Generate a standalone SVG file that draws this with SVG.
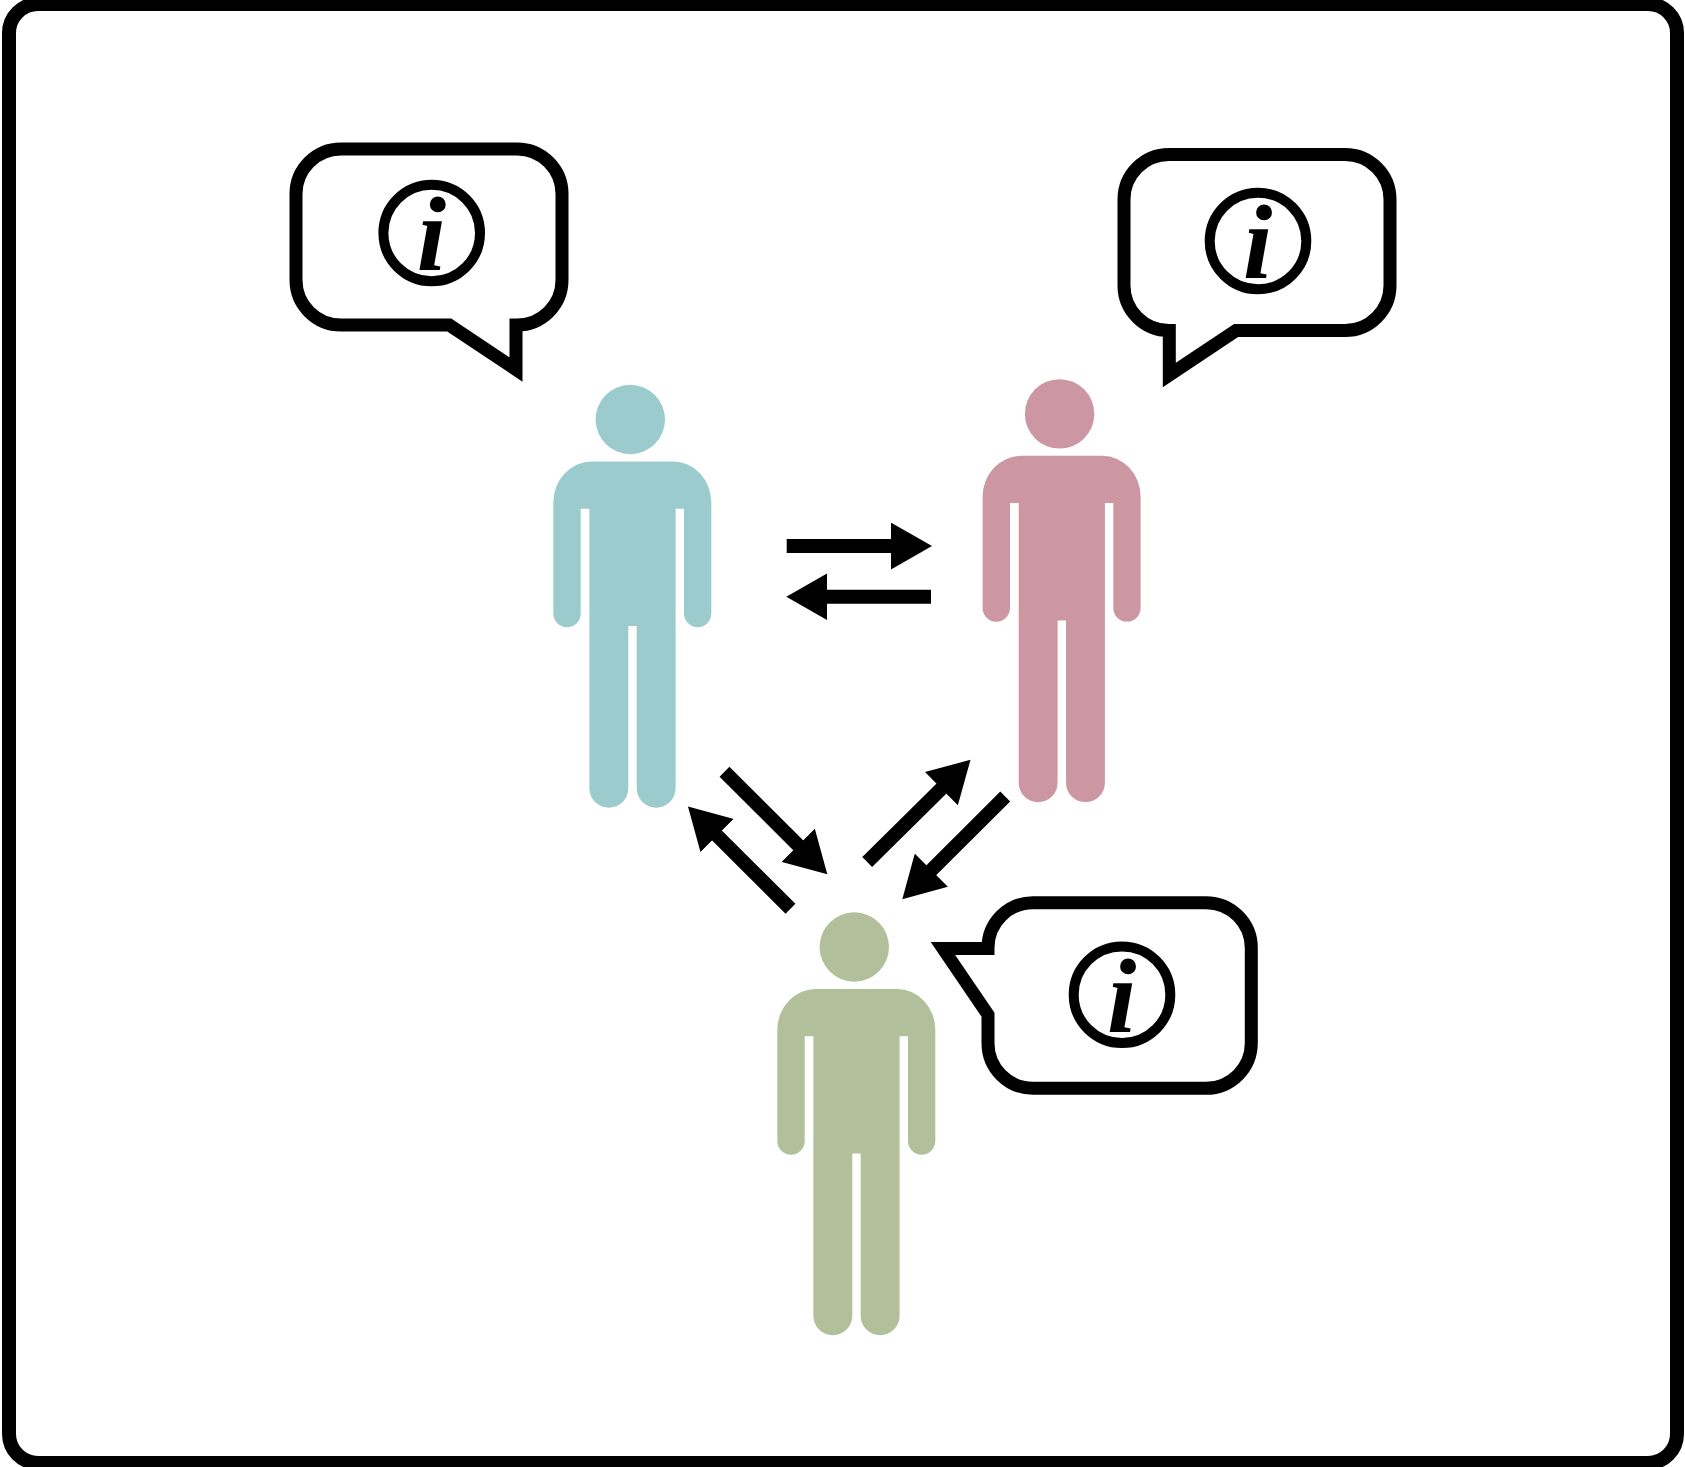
<svg xmlns="http://www.w3.org/2000/svg" width="1685" height="1467" viewBox="0 0 1685 1467" shape-rendering="geometricPrecision">
<style>
.frame{fill:#fff;stroke:#000;stroke-width:14}
.bubble{fill:#fff;stroke:#000;stroke-width:13;stroke-miterlimit:10}
.ring{fill:none;stroke:#000;stroke-width:10}
.info{font-family:"Liberation Serif","Times New Roman",serif;font-weight:bold;font-style:italic;font-size:106px;text-anchor:middle;fill:#000;text-rendering:geometricPrecision}
.arrow{stroke:#000;stroke-width:14;fill:none;marker-end:url(#head)}
</style>
<defs>
<marker id="head" markerUnits="userSpaceOnUse" markerWidth="42" markerHeight="47" refX="2" refY="23.4" orient="auto"><path d="M0,0 L41,23.4 L0,46.8 Z" fill="#000"/></marker>
<g id="person">
<circle cx="630.3" cy="419.5" r="34.7"/>
<path d="M592,461.4 H673 A38.3,41 0 0 1 711.3,502.4 V613.6 A13.65,13.65 0 0 1 684,613.6 V508.7 H675.6 V788.3 A19.45,19.45 0 0 1 636.7,788.3 V626 H628.3 V788.3 A19.45,19.45 0 0 1 589.4,788.3 V508.7 H580.7 V613.6 A13.7,13.7 0 0 1 553.3,613.6 V502.4 A38.7,41 0 0 1 592,461.4 Z"/>
</g>
</defs>
<rect x="9" y="4" width="1668" height="1459" rx="29" ry="29" class="frame"/>
<g id="person-teal" fill="#9CCBCD"><use href="#person"/></g>
<g id="person-pink" fill="#CC97A2"><use href="#person" x="429.3" y="-5.6"/></g>
<g id="person-green" fill="#B1C09A"><use href="#person" x="224" y="527.5"/></g>
<g id="bubble-1">
<path class="bubble" d="M341,149 H517 A45,45 0 0 1 562,194 V280 A45,45 0 0 1 517,325 H516 V369.5 L449.3,325 H341 A45,45 0 0 1 296,280 V194 A45,45 0 0 1 341,149 Z"/>
<circle class="ring" cx="431.7" cy="233" r="48.3"/>
<text class="info" x="431.5" y="270">i</text>
</g>
<g id="bubble-2">
<path class="bubble" d="M1169,154.5 H1345 A45,45 0 0 1 1390,199.5 V285.5 A45,45 0 0 1 1345,330.5 H1236 L1169.3,375 V330.5 H1169 A45,45 0 0 1 1124,285.5 V199.5 A45,45 0 0 1 1169,154.5 Z"/>
<circle class="ring" cx="1258" cy="241" r="48.3"/>
<text class="info" x="1257.8" y="278">i</text>
</g>
<g id="bubble-3">
<path class="bubble" d="M1033,902.7 H1206 A45.3,45.3 0 0 1 1251.3,948 V1043 A45.3,45.3 0 0 1 1206,1088.3 H1033 A45,45 0 0 1 988,1043.3 V1014.7 L943,948.6 H988 V947.7 A45,45 0 0 1 1033,902.7 Z"/>
<circle class="ring" cx="1122" cy="994.7" r="48.3"/>
<text class="info" x="1121.8" y="1031.7">i</text>
</g>
<g id="connectors">
<line class="arrow" x1="786.7" y1="546" x2="893" y2="546"/>
<line class="arrow" x1="931" y1="596.7" x2="825.3" y2="596.7"/>
<line class="arrow" x1="724.5" y1="771.7" x2="799.7" y2="846.7"/>
<line class="arrow" x1="790.5" y1="908.7" x2="715.6" y2="834.1"/>
<line class="arrow" x1="867.2" y1="862" x2="942.8" y2="787.2"/>
<line class="arrow" x1="1005.2" y1="796.5" x2="929.9" y2="871.6"/>
</g>
</svg>
